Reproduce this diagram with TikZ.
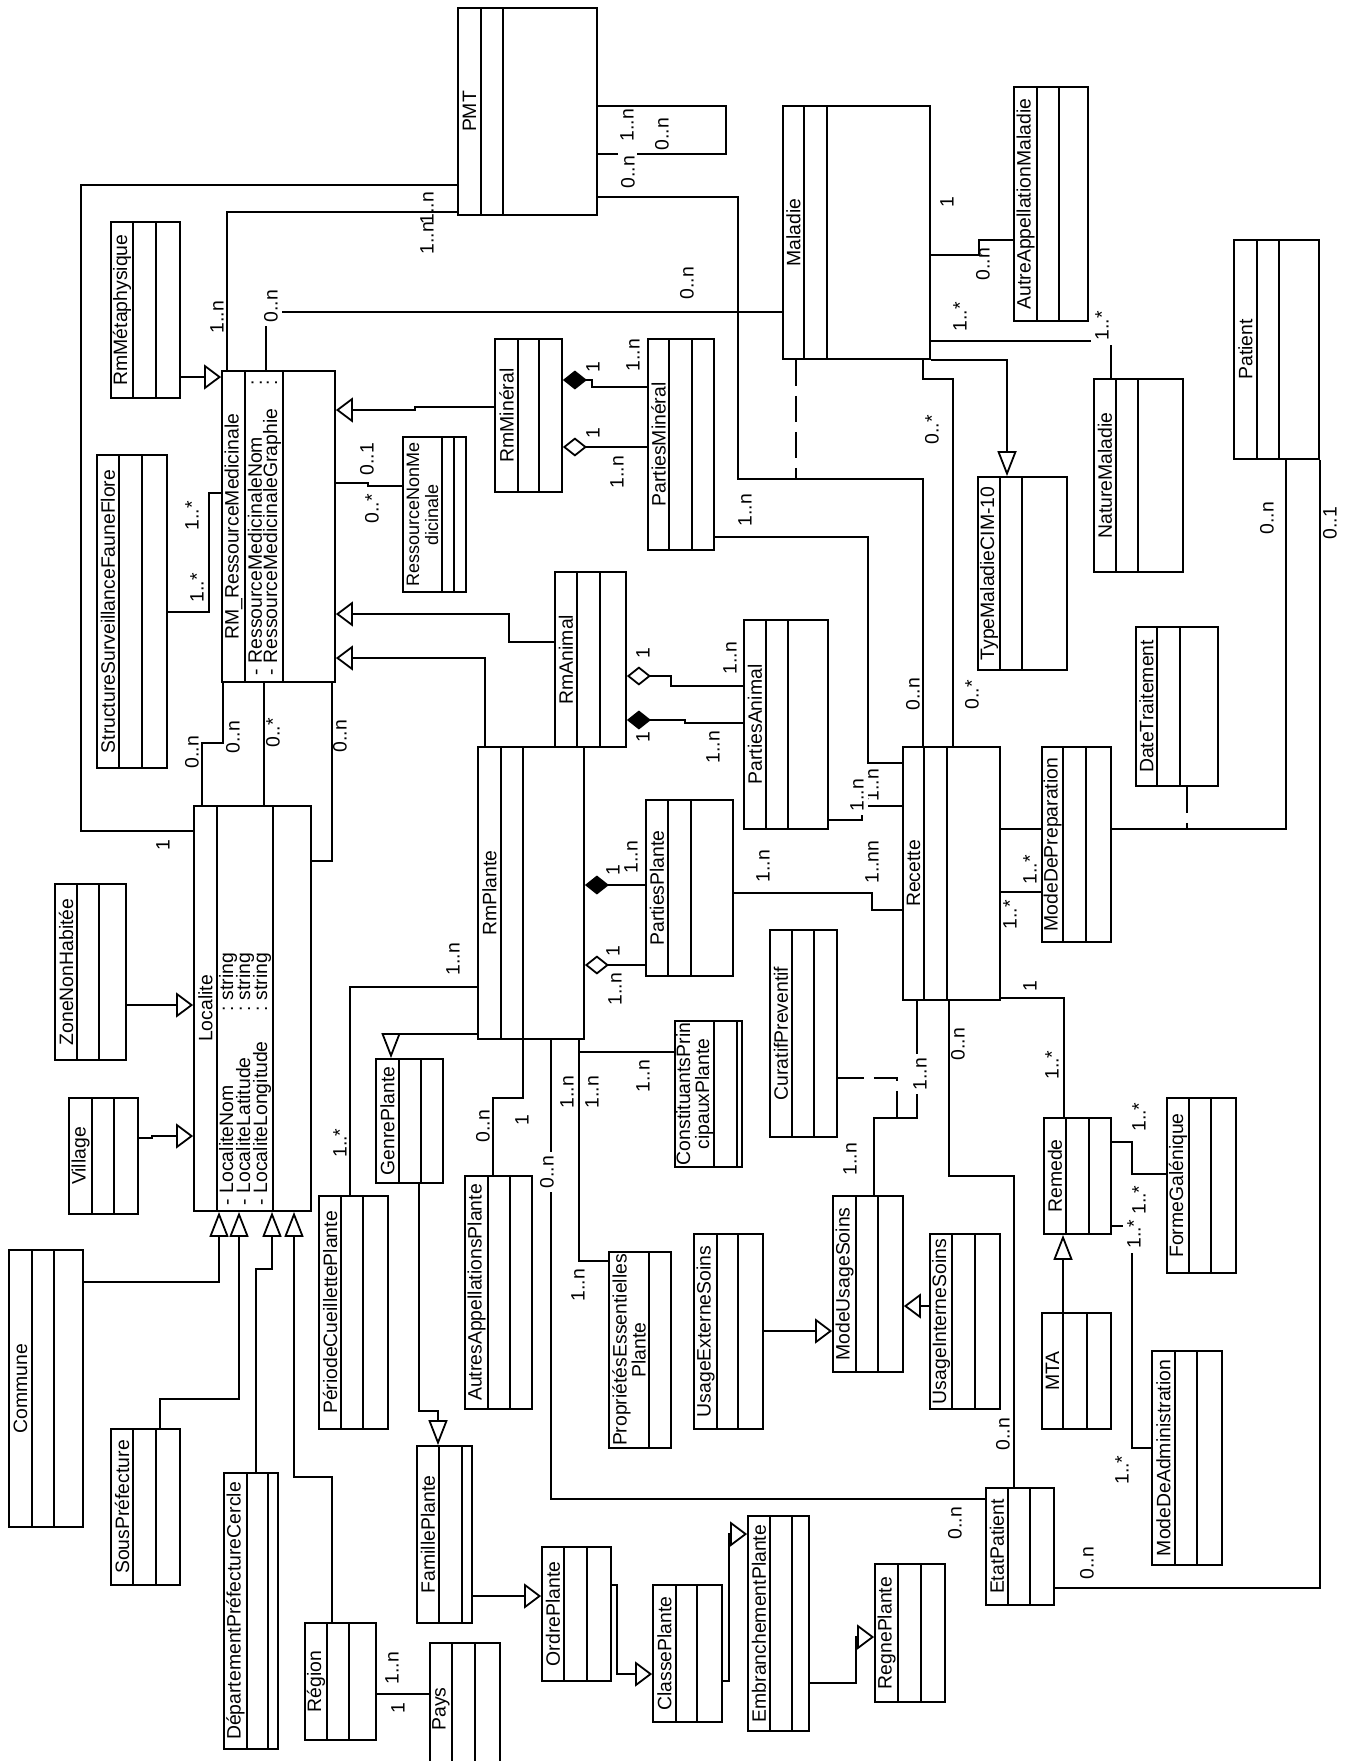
\documentclass[tikz,border=0pt]{standalone}
\usepackage{fontspec}
\setmainfont{Liberation Sans}
\usetikzlibrary{arrows.meta,fit}

% one class: id, x1, y1, x2, y2, compartment lines, name
\newcommand{\umlclass}[8]{%
  \node[cls,fit={(#2,#3) (#4,#5)}] (#1) {};
  \draw (#6,#3) -- (#6,#5) (#7,#3) -- (#7,#5);
  \node[cname] (#1-t) at ({(#2+#6)/2},{(#3+#5)/2}) {#8};
}

\begin{document}
\begin{tikzpicture}[x=0.5pt,y=-0.5pt,line width=0.9pt,
    cls/.style={draw,inner sep=0pt},
    cname/.style={rotate=90,font=\fontsize{9.7}{9.5}\selectfont,align=center,inner sep=0pt},
    mult/.style={rotate=90,font=\fontsize{9.7}{11}\selectfont,inner sep=1pt},
    multw/.style={mult,fill=white,inner sep=2pt},
    attr/.style={rotate=90,anchor=west,font=\fontsize{9.7}{11}\selectfont,inner sep=0pt},
    gen/.style={-{Triangle[open,length=8.5pt,width=12.5pt]}},
    genv/.style={-{Triangle[open,length=12.5pt,width=9.5pt]}},
    comp/.style={{Diamond[length=12pt,width=9.5pt]}-},
    aggr/.style={{Diamond[open,length=12pt,width=9.5pt]}-},
    assoc/.style={dash pattern=on 13pt off 5pt}]
  \useasboundingbox (0,0) rectangle (1350,1761);

  % classes
  \umlclass{pmt}{458}{8}{597}{215}{481}{503}{PMT}
  \umlclass{maladie}{783}{106}{930}{359}{804}{827}{Maladie}
  \umlclass{autreapp}{1014}{87}{1088}{321}{1037}{1059}{AutreAppellationMaladie}
  \umlclass{patient}{1234}{240}{1319}{459}{1257}{1279}{Patient}
  \umlclass{nature}{1094}{379}{1183}{572}{1116}{1138}{NatureMaladie}
  \umlclass{typecim}{978}{477}{1067}{670}{1000}{1022}{TypeMaladieCIM-10}
  \umlclass{datetrait}{1136}{627}{1218}{786}{1157}{1180}{DateTraitement}
  \umlclass{recette}{903}{747}{1000}{1000}{924}{947}{Recette}
  \umlclass{modeprep}{1042}{747}{1111}{942}{1063}{1086}{ModeDePreparation}
  \umlclass{remede}{1044}{1118}{1111}{1234}{1066}{1089}{Remede}
  \umlclass{forme}{1167}{1098}{1236}{1273}{1189}{1211}{FormeGalénique}
  \umlclass{mta}{1042}{1313}{1111}{1429}{1063}{1087}{MTA}
  \umlclass{modeadmin}{1152}{1351}{1222}{1565}{1175}{1197}{ModeDeAdministration}
  \umlclass{etat}{986}{1488}{1054}{1605}{1008}{1030}{EtatPatient}
  \umlclass{usageint}{930}{1234}{1000}{1409}{952}{975}{UsageInterneSoins}
  \umlclass{modeusage}{833}{1196}{903}{1372}{856}{878}{ModeUsageSoins}
  \umlclass{usageext}{694}{1234}{763}{1429}{717}{738}{UsageExterneSoins}
  \umlclass{curatif}{770}{930}{837}{1137}{792}{814}{CuratifPreventif}
  \umlclass{constit}{675}{1021}{742}{1167}{714}{737}{ConstituantsPrin\\cipauxPlante}
  \umlclass{propr}{609}{1252}{671}{1448}{649}{649}{PropriétésEssentielles\\Plante}
  \umlclass{autresapp}{465}{1176}{532}{1409}{488}{510}{AutresAppellationsPlante}
  \umlclass{rmplante}{478}{747}{584}{1039}{501}{523}{RmPlante}
  \umlclass{rmanimal}{555}{572}{626}{747}{577}{600}{RmAnimal}
  \umlclass{partanimal}{744}{620}{828}{829}{766}{788}{PartiesAnimal}
  \umlclass{partplante}{646}{800}{733}{976}{668}{691}{PartiesPlante}
  \umlclass{rmmineral}{495}{339}{562}{492}{518}{539}{RmMinéral}
  \umlclass{partmineral}{648}{339}{714}{550}{669}{692}{PartiesMinéral}
  \umlclass{rmres}{222}{371}{335}{682}{245}{283}{RM\_RessourceMedicinale}
  \umlclass{nonmed}{403}{437}{466}{592}{442}{454}{\fontsize{9}{9.5}\selectfont RessourceNonMe\\\fontsize{9}{9.5}\selectfont dicinale}
  \umlclass{metaph}{111}{222}{180}{398}{133}{156}{RmMétaphysique}
  \umlclass{ssff}{97}{455}{167}{768}{119}{142}{StructureSurveillanceFauneFlore}
  \umlclass{localite}{194}{806}{311}{1211}{217}{273}{Localite}
  \umlclass{zone}{55}{884}{126}{1060}{77}{99}{ZoneNonHabitée}
  \umlclass{village}{69}{1098}{138}{1214}{92}{114}{Village}
  \umlclass{commune}{9}{1250}{83}{1527}{32}{54}{Commune}
  \umlclass{souspref}{111}{1429}{180}{1585}{133}{156}{SousPréfecture}
  \umlclass{dept}{224}{1473}{278}{1749}{247}{268}{DépartementPréfectureCercle}
  \umlclass{region}{305}{1623}{376}{1740}{327}{349}{Région}
  \umlclass{pays}{430}{1643}{500}{1775}{452}{475}{Pays}
  \umlclass{periode}{319}{1196}{388}{1429}{341}{363}{PériodeCueillettePlante}
  \umlclass{genre}{376}{1059}{443}{1183}{399}{421}{GenrePlante}
  \umlclass{famille}{417}{1446}{472}{1623}{439}{462}{FamillePlante}
  \umlclass{ordre}{542}{1547}{611}{1681}{564}{587}{OrdrePlante}
  \umlclass{classe}{653}{1585}{722}{1722}{676}{697}{ClassePlante}
  \umlclass{embr}{748}{1516}{809}{1731}{770}{792}{EmbranchementPlante}
  \umlclass{regne}{875}{1564}{945}{1702}{898}{921}{RegnePlante}

  % attributes
  \node[attr] (rmres-a1) at (255,676) {\makebox[145pt][l]{-\ RessourceMedicinaleNom}:};
  \node[attr] (rmres-a2) at (272,676) {\makebox[145pt][l]{-\ RessourceMedicinaleGraphie}:};
  \node[attr] (loc-a1) at (228,1206) {\makebox[97pt][l]{-\ LocaliteNom}:\ string};
  \node[attr] (loc-a2) at (245,1206) {\makebox[97pt][l]{-\ LocaliteLatitude}:\ string};
  \node[attr] (loc-a3) at (262,1206) {\makebox[97pt][l]{-\ LocaliteLongitude}:\ string};

  % associations
  \draw (localite.west |- 0,831) -| (81,185) -- (pmt.west |- 0,185);
  \draw (pmt.west |- 0,212) -| (rmres.north -| 227,0);
  \draw (rmres.north -| 266,0) |- (maladie.west |- 0,312);
  \coordinate (loopa) at (637,154);
  \coordinate (loopb) at (618,154);
  \draw (pmt.east |- 0,106) -| (726,154) -- (loopa);
  \draw (loopb) -- (pmt.east |- 0,154);
  \draw (pmt.east |- 0,197) -| (738,479) -| (recette.north -| 923,0);
  \coordinate (pmtrec) at (796,479);
  \draw[assoc] (maladie.south -| pmtrec) -- (pmtrec);
  \draw (maladie.east |- 0,255) -| (979,240) -- (autreapp.west |- 0,240);
  \draw (maladie.east |- 0,341) -| (nature.north -| 1111,0);
  \draw[genv] (maladie.south east) -| (typecim.north -| 1007,0);
  \draw (maladie.south -| 923,0) |- (953,379) -- (recette.north -| 953,0);
  \draw (recette.east |- 0,829) -- (modeprep.west |- 0,829);
  \draw (modeprep.east |- 0,829) -| (patient.south -| 1286,0);
  \coordinate (prepat) at (1187,829);
  \draw[assoc] (datetrait.south -| prepat) -- (prepat);
  \draw (recette.east |- 0,892) -- (modeprep.west |- 0,892);
  \draw (recette.east |- 0,998) -| (remede.north -| 1064,0);
  \draw (recette.south -| 949,0) |- (1014,1176) -- (etat.north -| 1014,0);
  \draw (recette.south -| 917,0) |- (874,1118) -- (modeusage.north -| 874,0);
  \coordinate (recmus) at (897,1118);
  \draw[assoc] (curatif.east |- 0,1078) -| (recmus);
  \draw (patient.south east) |- (etat.east |- 0,1588);
  \draw (remede.east |- 0,1142) -| (1132,1174) -- (forme.west |- 0,1174);
  \draw (remede.east |- 0,1226) -| (1132,1448) -- (modeadmin.west |- 0,1448);

  % generalisations
  \draw[gen] (usageint.west |- 0,1306) -- (modeusage.east |- 0,1306);
  \draw[gen] (usageext.east |- 0,1331) -- (modeusage.west |- 0,1331);
  \draw[genv] (mta.north -| 1063,0) -- (remede.south -| 1063,0);
  \draw[gen] (rmanimal.west |- 0,642) -| (509,614) -- (rmres.east |- 0,614);
  \draw[gen] (rmplante.north -| 485,0) |- (rmres.east |- 0,658);
  \draw[gen] (rmmineral.west |- 0,407) -| (415,410) -- (rmres.east |- 0,410);
  \draw[gen] (metaph.east |- 0,377) -- (rmres.west |- 0,377);
  \draw[gen] (zone.east |- 0,1005) -- (localite.west |- 0,1005);
  \draw[gen] (village.east |- 0,1138) -| (152,1136) -- (localite.west |- 0,1136);
  \draw[genv] (commune.east |- 0,1282) -| (localite.south -| 219,0);
  \draw[genv] (souspref.north -| 160,0) |- (239,1399) -- (localite.south -| 239,0);
  \draw[genv] (dept.north -| 256,0) |- (272,1269) -- (localite.south -| 272,0);
  \draw[genv] (region.north -| 332,0) |- (294,1477) -- (localite.south -| 294,0);
  \draw[genv] (genre.south -| 419,0) |- (438,1411) -- (famille.north -| 438,0);
  \draw[genv] (rmplante.west |- 0,1034) -| (genre.north -| 391,0);
  \draw[gen] (famille.east |- 0,1596) -- (ordre.west |- 0,1596);
  \draw[gen] (ordre.east |- 0,1585) -| (617,1674) -- (classe.west |- 0,1674);
  \draw[gen] (classe.east |- 0,1681) -| (729,1534) -- (embr.west |- 0,1534);
  \draw[gen] (embr.east |- 0,1683) -| (856,1637) -- (regne.west |- 0,1637);

  % parts
  \draw[comp] (rmplante.east |- 0,885) -- (partplante.west |- 0,885);
  \draw[aggr] (rmplante.east |- 0,965) -- (partplante.west |- 0,965);
  \draw[aggr] (rmanimal.east |- 0,676) -| (671,686) -- (partanimal.west |- 0,686);
  \draw[comp] (rmanimal.east |- 0,720) -| (685,723) -- (partanimal.west |- 0,723);
  \draw[comp] (rmmineral.east |- 0,380) -| (592,387) -- (partmineral.west |- 0,387);
  \draw[aggr] (rmmineral.east |- 0,447) -- (partmineral.west |- 0,447);
  \draw (partmineral.east |- 0,537) -| (868,763) -- (recette.west |- 0,763);
  \draw (partanimal.east |- 0,820) -| (862,806) -- (recette.west |- 0,806);
  \draw (partplante.east |- 0,893) -| (872,910) -- (recette.west |- 0,910);

  % other links
  \draw (ssff.east |- 0,612) -| (209,493) -- (rmres.west |- 0,493);
  \draw (rmres.east |- 0,483) -| (368,486) -- (nonmed.west |- 0,486);
  \draw (localite.north -| 202,0) |- (223,743) -- (rmres.south -| 223,0);
  \draw (localite.north -| 264,0) -- (rmres.south -| 264,0);
  \draw (rmres.south -| 332,0) |- (localite.east |- 0,861);
  \draw (region.east |- 0,1694) -- (pays.west |- 0,1694);
  \draw (rmplante.west |- 0,987) -| (periode.north -| 350,0);
  \draw (rmplante.south -| 523,0) |- (493,1098) -- (autresapp.north -| 493,0);
  \draw (rmplante.south -| 551,0) |- (etat.west |- 0,1499);
  \draw (rmplante.south -| 579,0) |- (constit.west |- 0,1052);
  \draw (rmplante.south -| 579,0) |- (propr.west |- 0,1261);

  % multiplicities
  \foreach \x/\y/\t [count=\i] in {163/845/1, 427/238/1..n, 427/208/1..n,
      217/317/1..n, 687/283/0..n, 627/125/1..n, 662/134/0..n, 628/172/0..n,
      947/202/1, 983/264/0..n, 960/317/1..*, 932/430/0..*, 913/694/0..n,
      972/695/0..*, 1267/518/0..n, 1330/523/0..1, 1030/870/1..*,
      1010/915/1..*, 1030/986/1, 1052/1065/1..*, 958/1044/0..n,
      1003/1434/0..n, 850/1159/1..n, 1139/1117/1..*, 1139/1200/1..*,
      1122/1470/1..*, 955/1523/0..n, 1087/1563/0..n, 613/870/1, 631/857/1..n,
      613/951/1, 615/989/1..n, 643/653/1, 730/658/1..n, 643/737/1,
      713/747/1..n, 593/367/1, 633/355/1..n, 593/433/1, 617/472/1..n,
      745/510/1..n, 872/785/1..n, 763/866/1..n, 872/862/1..nn, 197/588/1..*,
      192/516/1..*, 367/459/0..1, 372/509/0..*, 192/752/0..n, 233/737/0..n,
      273/733/0..*, 340/736/0..n, 392/1668/1..n, 398/1708/1, 340/1143/1..*,
      453/959/1..n, 483/1126/0..n, 522/1120/1, 567/1092/1..n, 592/1092/1..n,
      643/1076/1..n, 578/1285/1..n}
    \node[mult] (m\i) at (\x,\y) {\t};
  \foreach \x/\y/\t [count=\i] in {271/306/0..n, 1102/326/1..*, 920/1074/1..n,
      1134/1234/1..*, 547/1172/0..n, 857/795/1..n}
    \node[multw] (w\i) at (\x,\y) {\t};
\end{tikzpicture}
\end{document}
